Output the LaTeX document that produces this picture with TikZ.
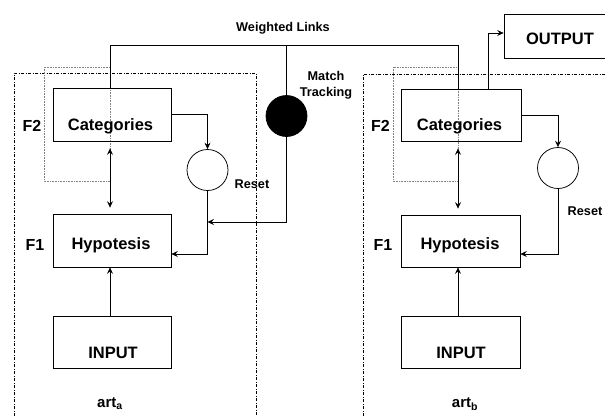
\documentclass[tikz,border=0pt]{standalone}
\usepackage{fontspec}
\setmainfont{Liberation Sans}
\usetikzlibrary{arrows.meta,calc}
\begin{document}
\begin{tikzpicture}[x=1pt,y=-1pt, line width=0.75pt,
  box/.style={draw, rectangle, inner sep=0pt},
  circ/.style={draw, circle, inner sep=0pt},
  lbl/.style={font=\fontsize{16.5}{19}\selectfont\bfseries, inner sep=0pt},
  side/.style={font=\fontsize{16}{19}\selectfont\bfseries, inner sep=0pt},
  small/.style={font=\fontsize{12.7}{16}\selectfont\bfseries, inner sep=0pt, align=center},
  arr/.style={-{Stealth[length=6.5pt,width=6pt,inset=2.4pt]}},
  darr/.style={{Stealth[length=6.5pt,width=6pt,inset=2.4pt]}-{Stealth[length=6.5pt,width=6pt,inset=2.4pt]}},
  outer/.style={dash pattern=on 3pt off 1.6pt on 0.8pt off 1.6pt, line width=0.6pt},
  inner/.style={densely dotted, gray, line width=0.6pt}
]
\useasboundingbox (0,0) rectangle (605,416);

% outer module frames
\draw[outer] (14,416) -- (14,73) -- (256,73) -- (256,416);
\draw[outer] (363,416) -- (363,74) -- (605,74);

% F2 dotted frames
\draw[inner] (44,67) rectangle (110,181);
\draw[inner] (393,67) rectangle (458,181);

% boxes module a
\node[box, minimum width=118pt, minimum height=53pt] (catA) at (112,114.5) {};
\node[box, minimum width=118pt, minimum height=53pt] (hypA) at (112,240.5) {};
\node[box, minimum width=118pt, minimum height=52pt] (inA) at (112,342) {};
\node[lbl] (catAt) at (110.5,126) {Categories};
\node[lbl] (hypAt) at (111,245) {Hypotesis};
\node[lbl] (inAt) at (113,353) {INPUT};

% boxes module b
\node[box, minimum width=120pt, minimum height=52pt] (catB) at (461,115) {};
\node[box, minimum width=119pt, minimum height=52pt] (hypB) at (460.5,241) {};
\node[box, minimum width=119pt, minimum height=52pt] (inB) at (460.5,342) {};
\node[lbl] (catBt) at (459.5,126) {Categories};
\node[lbl] (hypBt) at (460,245) {Hypotesis};
\node[lbl] (inBt) at (461,353) {INPUT};

% output box (cut by the right edge)
\begin{scope}
\clip (0,0) rectangle (605,416);
\node[box, minimum width=111pt, minimum height=44pt] (out) at (559.5,36) {};
\end{scope}
\node[lbl] (outt) at (560,39) {OUTPUT};

% circles
\node[circ, minimum size=41pt] (resA) at (207.5,170) {};
\node[circ, minimum size=41pt] (resB) at (558,168) {};
\node[circ, fill=black, minimum size=41pt] (match) at (286.5,116) {};

% side labels
\node[side] (f2A) at (32,126) {F2};
\node[side] (f1A) at (35,245) {F1};
\node[side] (f2B) at (380.5,126) {F2};
\node[side] (f1B) at (383,245) {F1};
\node[small] (resAt) at (252,184) {Reset};
\node[small] (resBt) at (585,211) {Reset};
\node[small] (wlt) at (283,28) {Weighted Links};
\node[small] (mtt) at (326,85) {Match\\Tracking};
\node[font=\fontsize{15}{18}\selectfont\bfseries, inner sep=0pt] (artA) at (110,404) {art\textsubscript{a}};
\node[font=\fontsize{15}{18}\selectfont\bfseries, inner sep=0pt] (artB) at (465,404) {art\textsubscript{b}};

% axes
\coordinate (axA) at (110,0);
\coordinate (axB) at (458,0);
\coordinate (wl1) at (110,45);
\coordinate (wl2) at (458,45);
\coordinate (mtc) at (286.5,222);
\coordinate (oc) at (488,0);

% weighted links
\draw (catA.north -| wl1) -- (wl1) -- (wl2) -- (catB.north -| wl2);
\draw (match.north) -- (match.north |- wl1);

% match tracking
\draw[arr] (match.south) -- (mtc) -- (mtc -| resA.south);

% module a connections
\draw[arr] (catA.east) -| (resA.north);
\draw[arr] (resA.south) |- ([yshift=-13.5pt]hypA.east);
\draw[darr] ([yshift=-7pt]catA.south -| axA) -- ([yshift=6pt]hypA.north -| axA);
\draw[arr] (inA.north -| axA) -- (hypA.south -| axA);

% module b connections
\draw[arr] (catB.east) -| (resB.north);
\draw[arr] (resB.south) |- ([yshift=-13pt]hypB.east);
\draw[darr] ([yshift=-7pt]catB.south -| axB) -- ([yshift=6pt]hypB.north -| axB);
\draw[arr] (inB.north -| axB) -- (hypB.south -| axB);
\draw[arr] (catB.north -| oc) |- ([yshift=3pt]out.west);
\end{tikzpicture}
\end{document}
